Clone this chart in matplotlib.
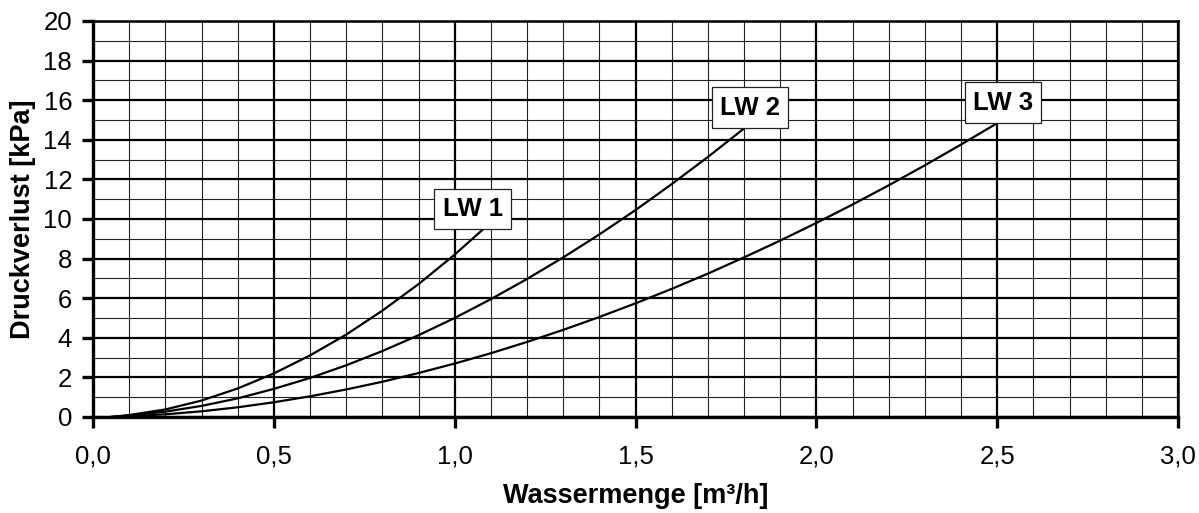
import matplotlib
matplotlib.use('Agg')
import matplotlib.pyplot as plt
from matplotlib.ticker import MultipleLocator, FuncFormatter

plt.rcParams['font.family'] = ['Liberation Sans', 'DejaVu Sans']

# Data
x_lw1 = [0.05, 0.1, 0.2, 0.3, 0.4, 0.5, 0.6, 0.7, 0.8, 0.9, 1.0, 1.1]
y_lw1 = [0.0, 0.10, 0.38, 0.83, 1.44, 2.2, 3.11, 4.16, 5.37, 6.71, 8.2, 9.83]

x_lw2 = [0.05, 0.1, 0.2, 0.3, 0.4, 0.5, 0.6, 0.7, 0.8, 0.9, 1.0, 1.1, 1.2,
         1.3, 1.4, 1.5, 1.6, 1.7, 1.8]
y_lw2 = [0.0, 0.076, 0.27, 0.56, 0.94, 1.42, 1.97, 2.61, 3.33, 4.13, 5.0,
         5.95, 6.97, 8.06, 9.22, 10.45, 11.76, 13.13, 14.57]

x_lw3 = [0.05, 0.1, 0.2, 0.3, 0.4, 0.5, 0.6, 0.7, 0.8, 0.9, 1.0, 1.1, 1.2,
         1.3, 1.4, 1.5, 1.6, 1.7, 1.8, 1.9, 2.0, 2.1, 2.2, 2.3, 2.4, 2.5]
y_lw3 = [0.0, 0.037, 0.136, 0.287, 0.49, 0.744, 1.044, 1.39, 1.78, 2.22, 2.7,
         3.22, 3.79, 4.40, 5.05, 5.74, 6.47, 7.24, 8.06, 8.91, 9.80, 10.73,
         11.70, 12.71, 13.76, 14.84]

series_names = ['LW 1', 'LW 2', 'LW 3']
# label box centres (data coordinates)
label_pos = [(1.05, 10.5), (1.816, 15.63), (2.516, 15.88)]

x_label = 'Wassermenge [m³/h]'
y_label = 'Druckverlust [kPa]'

fig = plt.figure(figsize=(11.99, 5.13), dpi=100)
ax = fig.add_axes([93/1199, 1-417/513, (1178-93)/1199, (417-21)/513])

ax.set_xlim(0, 3.0)
ax.set_ylim(0, 20)

ax.xaxis.set_major_locator(MultipleLocator(0.5))
ax.xaxis.set_minor_locator(MultipleLocator(0.1))
ax.yaxis.set_major_locator(MultipleLocator(2))
ax.yaxis.set_minor_locator(MultipleLocator(1))
ax.xaxis.set_major_formatter(FuncFormatter(lambda v, p: f'{v:.1f}'.replace('.', ',')))

ax.grid(which='major', color='black', linewidth=1.6, zorder=1)
ax.grid(which='minor', color='#222222', linewidth=0.8, zorder=1)
ax.set_axisbelow(True)

for s in ['left', 'bottom']:
    ax.spines[s].set_linewidth(2.4)
for s in ['top', 'right']:
    ax.spines[s].set_linewidth(1.8)

ax.tick_params(which='major', direction='out', length=8, width=2.4,
               labelsize=18.5, pad=7)
ax.tick_params(axis='x', which='major', pad=12)
ax.tick_params(which='minor', length=0)
ax.tick_params(top=False, right=False)

for xs, ys in [(x_lw1, y_lw1), (x_lw2, y_lw2), (x_lw3, y_lw3)]:
    ax.plot(xs, ys, color='black', linewidth=1.6, zorder=3, clip_on=False)

for name, (lx, ly) in zip(series_names, label_pos):
    ax.text(lx, ly, name, fontsize=18.5, fontweight='bold', ha='center',
            va='center', zorder=5,
            bbox=dict(boxstyle='square,pad=0.32', facecolor='white',
                      edgecolor='#222222', linewidth=0.9))

ax.set_xlabel(x_label, fontsize=19.5, fontweight='bold', labelpad=10)
ax.set_ylabel(y_label, fontsize=19.5, fontweight='bold', labelpad=5)

fig.savefig('out.png', dpi=100)
